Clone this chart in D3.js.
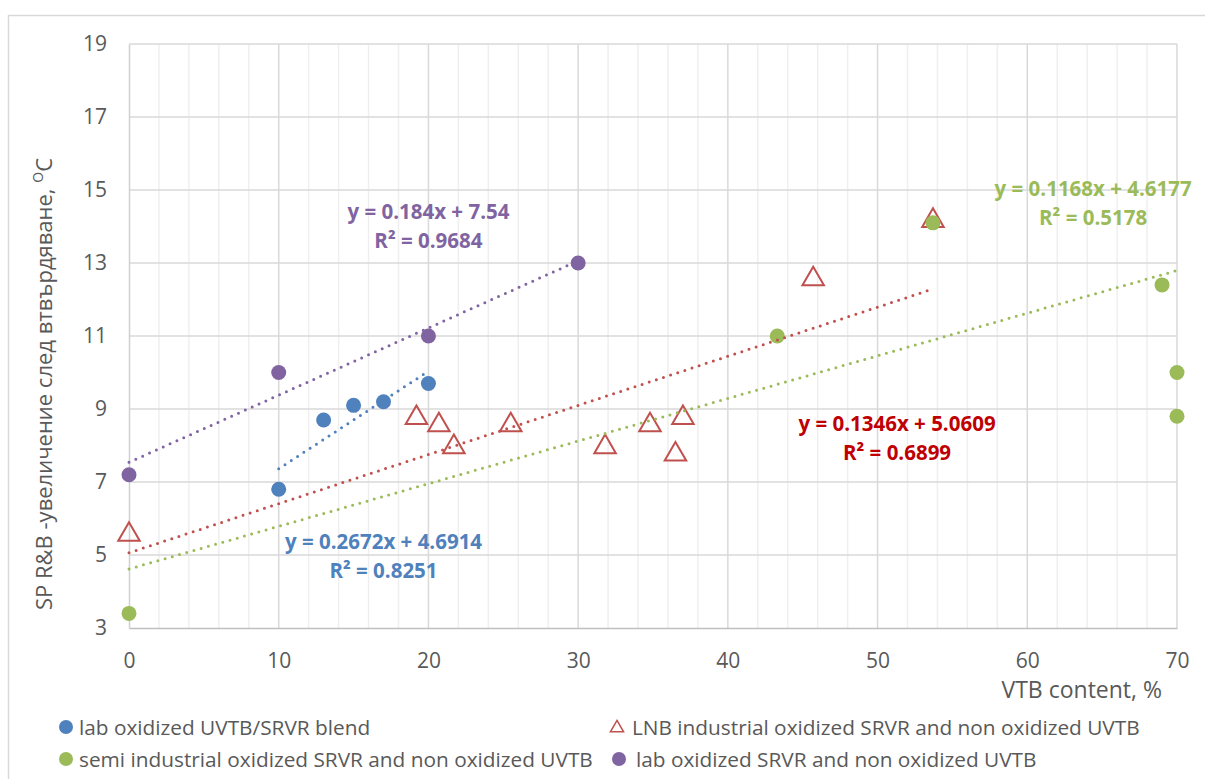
<!DOCTYPE html>
<html lang="en">

<head>
  <meta charset="UTF-8">
  <title>SP R&amp;B vs VTB content</title>
  <script src="https://d3js.org/d3.v7.min.js"></script>
  <style>
    body {
      margin: 0;
      background: #fff;
    }

    text {
      font-family: "Open Sans", sans-serif;
      fill: #595959;
    }

    .eq {
      font-weight: bold;
    }
  </style>
</head>

<body>
  <svg id="chart" width="1205" height="779"></svg>

  <script>
    // series names (legend order)
    const seriesNames = [
      "lab oxidized UVTB/SRVR blend",
      "LNB industrial oxidized SRVR and non oxidized UVTB",
      "semi industrial oxidized SRVR and non oxidized UVTB",
      "lab oxidized SRVR and non oxidized UVTB"
    ];

    // x = VTB content, %   y = SP R&B increase, oC
    const blendX = [10, 13, 15, 17, 20];
    const blendY = [6.8, 8.7, 9.1, 9.2, 9.7];

    const lnbX = [0, 19.2, 20.7, 21.7, 25.5, 31.8, 34.8, 36.5, 37, 45.7, 53.7];
    const lnbY = [5.6, 8.8, 8.6, 8.0, 8.6, 8.0, 8.6, 7.8, 8.8, 12.6, 14.2];

    const semiX = [0, 43.3, 53.7, 69, 70, 70];
    const semiY = [3.4, 11, 14.1, 12.4, 10, 8.8];

    const labX = [0, 10, 20, 30];
    const labY = [7.2, 10, 11, 13];

    // linear trendlines as reported on the chart
    const slopes = [0.2672, 0.1346, 0.1168, 0.184];
    const intercepts = [4.6914, 5.0609, 4.6177, 7.54];
    const rSquared = [0.8251, 0.6899, 0.5178, 0.9684];

    const xTicks = [0, 10, 20, 30, 40, 50, 60, 70];
    const yTicks = [3, 5, 7, 9, 11, 13, 15, 17, 19];

    const colors = ["#4F81BD", "#C0504D", "#9BBB59", "#8064A2"];
    const eqColors = ["#4F81BD", "#C00000", "#9BBB59", "#8064A2"];
    const markers = ["circle", "triangle", "circle", "circle"];
    // where the equation boxes sit (data units, centre of first line)
    const eqPos = [[17, 5.38], [51.3, 8.59], [64.4, 15.03], [20, 14.4]];

    const seriesX = [blendX, lnbX, semiX, labX];
    const seriesY = [blendY, lnbY, semiY, labY];

    const svg = d3.select("#chart");

    const x = d3.scaleLinear().domain([0, 70]).range([129, 1177]);
    const y = d3.scaleLinear().domain([3, 19]).range([628, 44]);

    // outer chart frame
    svg.append("rect")
      .attr("x", 8.5).attr("y", 15.5)
      .attr("width", 1220).attr("height", 800)
      .attr("fill", "none")
      .attr("stroke", "#d9d9d9")
      .attr("stroke-width", 1.5);

    // minor vertical grid every 2
    svg.append("g")
      .selectAll("line")
      .data(d3.range(2, 70, 2).filter(v => v % 10 !== 0))
      .join("line")
      .attr("x1", d => x(d)).attr("x2", d => x(d))
      .attr("y1", y(3)).attr("y2", y(19))
      .attr("stroke", "#efefef")
      .attr("stroke-width", 1.5);

    // major grid
    svg.append("g")
      .selectAll("line")
      .data(xTicks.slice(1))
      .join("line")
      .attr("x1", d => x(d)).attr("x2", d => x(d))
      .attr("y1", y(3)).attr("y2", y(19))
      .attr("stroke", "#d9d9d9")
      .attr("stroke-width", 1.5);

    svg.append("g")
      .selectAll("line")
      .data(yTicks.slice(1))
      .join("line")
      .attr("x1", x(0)).attr("x2", x(70))
      .attr("y1", d => y(d)).attr("y2", d => y(d))
      .attr("stroke", "#d9d9d9")
      .attr("stroke-width", 1.5);

    // axes
    const xAxis = svg.append("g")
      .attr("transform", `translate(0,${y(3)})`)
      .call(d3.axisBottom(x).tickValues(xTicks).tickSize(0).tickPadding(25));
    xAxis.select(".domain").attr("stroke", "#bfbfbf").attr("stroke-width", 1.5);
    xAxis.selectAll("text").attr("font-size", 21).attr("fill", "#595959");

    const yAxis = svg.append("g")
      .attr("transform", `translate(${x(0)},0)`)
      .call(d3.axisLeft(y).tickValues(yTicks).tickSize(0).tickPadding(22));
    yAxis.select(".domain").attr("stroke", "#d0d0d0").attr("stroke-width", 1.5);
    yAxis.selectAll("text").attr("font-size", 21).attr("fill", "#595959");
    xAxis.attr("font-family", null);
    yAxis.attr("font-family", null);

    // axis titles
    svg.append("text")
      .attr("x", 1162).attr("y", 698)
      .attr("text-anchor", "end")
      .attr("font-size", 23)
      .text("VTB content, %");

    const yTitle = svg.append("text")
      .attr("transform", "translate(52,384) rotate(-90)")
      .attr("text-anchor", "middle")
      .attr("font-size", 22);
    yTitle.append("tspan").text("SP R&B -увеличение след втвърдяване, ");
    yTitle.append("tspan").attr("font-size", 14).attr("dy", -9).text("O");
    yTitle.append("tspan").attr("dy", 9).text("C");

    const triangle = d3.symbol().type(d3.symbolTriangle).size(200);

    // markers
    seriesX.forEach((xs, i) => {
      const pts = xs.map((v, j) => [v, seriesY[i][j]]);
      const g = svg.append("g");
      if (markers[i] === "triangle") {
        g.selectAll("path")
          .data(pts)
          .join("path")
          .attr("d", triangle)
          .attr("transform", d => `translate(${x(d[0])},${y(d[1]) + 1.5})`)
          .attr("fill", "none")
          .attr("stroke", colors[i])
          .attr("stroke-width", 2);
      } else {
        g.selectAll("circle")
          .data(pts)
          .join("circle")
          .attr("cx", d => x(d[0]))
          .attr("cy", d => y(d[1]))
          .attr("r", 7.5)
          .attr("fill", colors[i]);
      }
    });

    // dotted trendlines over the extent of each series
    seriesX.forEach((xs, i) => {
      const [x0, x1] = d3.extent(xs);
      const f = v => slopes[i] * v + intercepts[i];
      svg.append("line")
        .attr("x1", x(x0)).attr("y1", y(f(x0)))
        .attr("x2", x(x1)).attr("y2", y(f(x1)))
        .attr("stroke", colors[i])
        .attr("stroke-width", 3)
        .attr("stroke-linecap", "round")
        .attr("stroke-dasharray", "0 7.5");
    });

    // equations
    seriesX.forEach((xs, i) => {
      const cx = x(eqPos[i][0]);
      const cy = y(eqPos[i][1]);
      const t = svg.append("text")
        .attr("class", "eq")
        .attr("text-anchor", "middle")
        .attr("font-size", 20.5)
        .style("fill", eqColors[i]);
      t.append("tspan").attr("x", cx).attr("y", cy + 7.5)
        .text(`y = ${slopes[i]}x + ${intercepts[i]}`);
      t.append("tspan").attr("x", cx).attr("y", cy + 36.5)
        .text(`R² = ${rSquared[i]}`);
    });

    // legend
    const legendPos = [[66, 727, 79], [617, 727, 632], [66, 759, 79], [619, 759, 636]];
    const legendTri = d3.symbol().type(d3.symbolTriangle).size(75);
    seriesNames.forEach((name, i) => {
      const [mx, my, tx] = legendPos[i];
      if (markers[i] === "triangle") {
        svg.append("path")
          .attr("d", legendTri)
          .attr("transform", `translate(${mx},${my + 1})`)
          .attr("fill", "none")
          .attr("stroke", colors[i])
          .attr("stroke-width", 1.5);
      } else {
        svg.append("circle")
          .attr("cx", mx).attr("cy", my)
          .attr("r", 7)
          .attr("fill", colors[i]);
      }
      svg.append("text")
        .attr("x", tx).attr("y", my + 7.5)
        .attr("font-size", 20.8)
        .text(name);
    });
  </script>
</body>

</html>
